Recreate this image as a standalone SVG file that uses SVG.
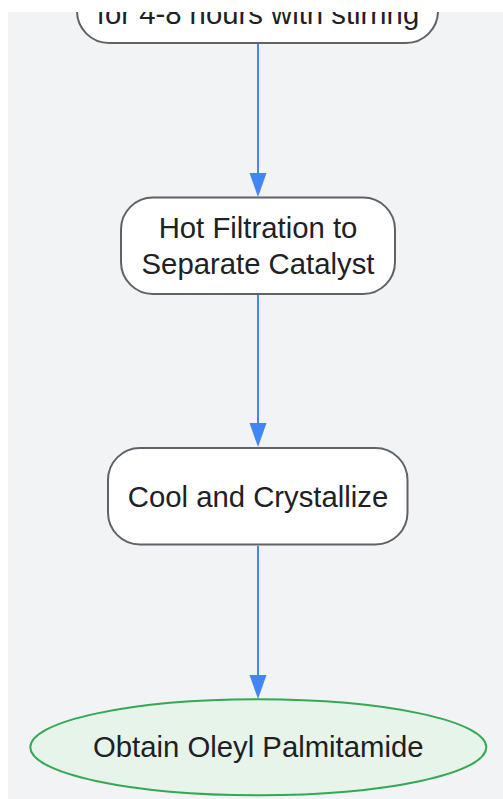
<svg xmlns="http://www.w3.org/2000/svg" width="503" height="799" viewBox="0 0 503 799">
<style>
.node rect{fill:#ffffff;stroke:#5f6368;stroke-width:2}
.end ellipse{fill:#e6f4ea;stroke:#34a853;stroke-width:2}
text{font-family:"Liberation Sans",Arial,sans-serif;font-size:29.3px;fill:#202124;text-anchor:middle}
.edge{stroke:#4285f4;stroke-width:2;fill:none}
.head{fill:#4285f4}
</style>
<defs>
<clipPath id="clip"><rect x="8" y="12" width="495" height="787"/></clipPath>
</defs>
<rect x="0" y="0" width="503" height="799" fill="#ffffff"/>
<rect x="8" y="12" width="495" height="787" fill="#f1f3f4"/>
<g clip-path="url(#clip)">
<g id="edges">
<path class="edge" d="M258,44 L258,180"/>
<path class="head" d="M249.5,173 L266.5,173 L258,197 Z"/>
<path class="edge" d="M258,295 L258,430"/>
<path class="head" d="M249.5,423 L266.5,423 L258,447 Z"/>
<path class="edge" d="M258,546 L258,682"/>
<path class="head" d="M249.5,675 L266.5,675 L258,699 Z"/>
</g>
<g id="node1" class="node">
<rect x="77" y="-54" width="361" height="97" rx="32" ry="32"/>
<text x="258" y="24">for 4-8 hours with stirring</text>
</g>
<g id="node2" class="node">
<rect x="121" y="197.5" width="274" height="96.5" rx="32" ry="32"/>
<text x="258" y="237.5">Hot Filtration to</text>
<text x="258" y="273.5">Separate Catalyst</text>
</g>
<g id="node3" class="node">
<rect x="108" y="448" width="299.5" height="96.5" rx="32" ry="32"/>
<text x="258" y="507">Cool and Crystallize</text>
</g>
<g id="node4" class="end">
<ellipse cx="258.3" cy="747.3" rx="228" ry="48"/>
<text x="258.3" y="757">Obtain Oleyl Palmitamide</text>
</g>
</g>
</svg>
